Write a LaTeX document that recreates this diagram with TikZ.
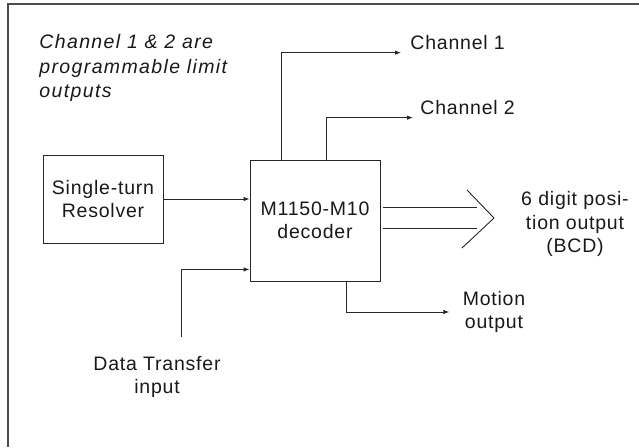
\documentclass[tikz,border=0pt]{standalone}
\usepackage{fontspec}
\setmainfont{Liberation Sans}[LetterSpace=4]
\usetikzlibrary{arrows.meta}

\begin{document}
\begin{tikzpicture}[x=1pt, y=-1pt, >={Latex[length=6pt,width=4.5pt]}, line width=0.9pt, draw=black!85,
  every node/.style={font=\fontsize{19.5}{23.5}\selectfont, text=black!90},
  block/.style={draw, line width=0.9pt, align=center},
  lbl/.style={align=center, inner sep=3pt}];

\useasboundingbox (0,0) rectangle (639,447);

% frame (only top and left edges show)
\draw[line width=1.5pt, black!70] (639,4) -- (8,4) -- (8,447);

\node (note) at (39, 34) [anchor=north west, align=left, inner sep=0pt, font=\fontsize{19.5}{24.5}\selectfont\itshape\addfontfeature{LetterSpace=7}]
  {Channel 1 \& 2 are\\programmable limit\\outputs};

\node (resolver) at (103, 199)   [block, minimum width=120pt, minimum height=88pt] {Single-turn\\Resolver};
\node (decoder)  at (315, 220.5) [block, minimum width=130pt, minimum height=121pt] {M1150-M10\\decoder};

\node (ch1)    at (407, 49)  [lbl, anchor=base west] {Channel 1};
\node (ch2)    at (417, 114) [lbl, anchor=base west] {Channel 2};
\node (bcd)    at (575, 224) [lbl] {6 digit posi-\\tion output\\(BCD)};
\node (motion) at (494, 312) [lbl] {Motion\\output};
\node (dt)     at (157, 377) [lbl] {Data Transfer\\input};

\coordinate (dtin) at (181, 337);

\path[->] (resolver.east) edge (resolver.east -| decoder.west);
\draw[->] (dtin) |- ([yshift=12pt]decoder.south west);

\draw[->, shorten >=6pt] ([xshift=32pt]decoder.north west) |- (ch1.south west);
\draw[->, shorten >=4pt] ([xshift=77pt]decoder.north west) |- (ch2.south west);
\draw[->, shorten >=10pt] ([xshift=97pt]decoder.south west) |- (motion.west);

% wide output arrow
\draw[shorten <=3pt] ([yshift=13.5pt]decoder.east) -- ++(97,0);
\draw[shorten <=3pt] ([yshift=-7.5pt]decoder.east) -- ++(97,0);
\draw (467, 190) -- (494, 218) -- (462, 248);

\end{tikzpicture}
\end{document}
